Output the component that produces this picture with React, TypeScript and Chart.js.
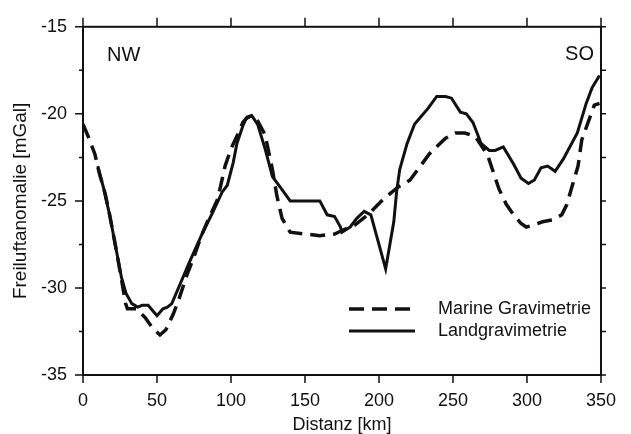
import React, { useEffect, useRef } from "react";
import { Chart, registerables } from "chart.js";

Chart.register(...registerables);

// Marine gravimetry (dashed)
const marineKm = [0, 3.5, 8, 11, 15, 18, 22, 26, 28.8, 30, 36, 42, 47, 52, 56, 61, 65, 70, 75, 80, 85, 91, 96, 100, 105, 108, 111, 114, 118, 123, 128, 131, 134.5, 140, 150, 160, 170, 175, 183.5, 192.5, 203, 213, 221, 228, 234, 240, 245, 251.5, 258, 265, 269, 273.5, 281, 286, 291, 296, 299.5, 304, 310.5, 317, 323.5, 327, 330, 334.5, 337, 345.5, 349];
const marineVal = [-20.6, -21.3, -22.3, -23.4, -24.6, -25.8, -27.6, -29.5, -30.9, -31.2, -31.2, -31.7, -32.3, -32.7, -32.4, -31.5, -30.6, -29.3, -28.2, -27.0, -26.0, -24.9, -23.0, -22.0, -21.1, -20.5, -20.2, -20.1, -20.4, -21.2, -23.2, -24.7, -26.0, -26.8, -26.9, -27.0, -26.9, -26.7, -26.4, -25.8, -24.9, -24.2, -23.8, -23.0, -22.3, -21.8, -21.4, -21.1, -21.1, -21.3, -21.8, -22.4, -24.3, -25.2, -25.8, -26.3, -26.5, -26.4, -26.2, -26.1, -25.8, -25.2, -24.3, -23.0, -21.5, -19.5, -19.4];

// Land gravimetry (solid)
const landKm = [10, 14, 18, 22, 26, 29, 33, 37, 40, 44, 47, 50, 54, 57, 60, 65.5, 72, 81, 88, 94, 97.5, 101.5, 104, 108, 110, 114, 118, 123, 128, 134, 140, 160, 165, 170, 174, 175, 180.5, 185, 190, 194.5, 204.5, 210, 212, 214, 219, 224, 228, 233, 239, 245, 249, 255, 259, 263.5, 269, 274.5, 278.5, 284, 291, 296, 301, 305, 309.5, 314, 319, 324.5, 334, 340, 344, 349];
const landVal = [-23.0, -24.3, -25.8, -27.6, -29.4, -30.3, -30.9, -31.1, -31.0, -31.0, -31.3, -31.6, -31.2, -31.1, -30.9, -29.8, -28.5, -26.8, -25.6, -24.5, -24.1, -22.8, -21.7, -20.7, -20.3, -20.1, -20.6, -22.0, -23.6, -24.3, -25.0, -25.0, -25.8, -25.9, -26.5, -26.8, -26.5, -26.0, -25.6, -25.8, -28.9, -26.2, -24.4, -23.2, -21.7, -20.6, -20.2, -19.7, -19.0, -19.0, -19.1, -19.9, -20.0, -20.5, -21.7, -22.1, -22.1, -21.9, -22.9, -23.7, -24.0, -23.8, -23.1, -23.0, -23.3, -22.6, -21.1, -19.4, -18.5, -17.8];

const seriesLabels = ["Marine Gravimetrie", "Landgravimetrie"];
const xTitle = "Distanz [km]";
const yTitle = "Freiluftanomalie [mGal]";
const cornerLabels = ["NW", "SO"];

const FONT = "'Liberation Sans', Arial, Helvetica, sans-serif";
const INK = "#111111";

const decorPlugin = {
  id: "decor",
  afterDraw(chart: any) {
    const { ctx, chartArea } = chart;
    const { left, right, top, bottom } = chartArea;
    const xs = chart.scales.x;
    const ys = chart.scales.y;
    ctx.save();
    ctx.strokeStyle = INK;
    ctx.lineWidth = 2;
    ctx.strokeRect(left, top, right - left, bottom - top);
    ctx.lineWidth = 1.5;
    ctx.beginPath();
    for (let v = 0; v <= 350; v += 50) {
      const px = xs.getPixelForValue(v);
      ctx.moveTo(px, bottom);
      ctx.lineTo(px, bottom + 8);
      ctx.moveTo(px, top);
      ctx.lineTo(px, top - 9);
    }
    for (let v = -35; v <= -15; v += 2.5) {
      const py = ys.getPixelForValue(v);
      const major = Math.abs(v % 5) < 1e-6;
      ctx.moveTo(left, py);
      ctx.lineTo(left - (major ? 8 : 4), py);
      ctx.moveTo(right, py);
      ctx.lineTo(right + 5, py);
    }
    ctx.stroke();

    // corner labels
    ctx.fillStyle = INK;
    ctx.font = `20px ${FONT}`;
    ctx.textBaseline = "middle";
    ctx.textAlign = "left";
    ctx.fillText(cornerLabels[0], 107, 55);
    ctx.textAlign = "right";
    ctx.fillText(cornerLabels[1], 594, 54);

    // legend
    const ds = chart.data.datasets;
    const rows = [309, 331];
    ds.forEach((d: any, i: number) => {
      ctx.save();
      ctx.strokeStyle = d.borderColor;
      ctx.lineWidth = d.borderWidth;
      ctx.setLineDash(d.borderDash || []);
      ctx.beginPath();
      ctx.moveTo(349, rows[i]);
      ctx.lineTo(i === 0 ? 412 : 415, rows[i]);
      ctx.stroke();
      ctx.restore();
      ctx.fillStyle = INK;
      ctx.font = `18px ${FONT}`;
      ctx.textAlign = "left";
      ctx.textBaseline = "middle";
      ctx.fillText(d.label, 438, rows[i]);
    });
    ctx.restore();
  },
};

export default function App() {
  const ref = useRef<HTMLCanvasElement | null>(null);
  useEffect(() => {
    document.body.style.margin = "0";
    const canvas = ref.current!;
    const chart = new Chart(canvas, {
      type: "line",
      data: {
        datasets: [
          {
            label: seriesLabels[0],
            data: marineKm.map((x, i) => ({ x, y: marineVal[i] })),
            borderColor: INK,
            borderWidth: 3.5,
            borderDash: [15, 8],
            pointRadius: 0,
            tension: 0,
            fill: false,
          },
          {
            label: seriesLabels[1],
            data: landKm.map((x, i) => ({ x, y: landVal[i] })),
            borderColor: INK,
            borderWidth: 3,
            pointRadius: 0,
            tension: 0,
            fill: false,
          },
        ],
      },
      options: {
        animation: false,
        responsive: false,
        devicePixelRatio: 1,
        layout: { padding: { left: 0, top: 22, right: 14, bottom: 0 } },
        plugins: { legend: { display: false }, tooltip: { enabled: false } },
        scales: {
          x: {
            type: "linear",
            min: 0,
            max: 350,
            afterFit: (s: any) => { s.height = 59; },
            grid: { display: false, drawTicks: false },
            border: { display: false },
            ticks: { stepSize: 50, padding: 15, color: INK, font: { family: FONT, size: 18 } },
            title: { display: true, text: xTitle, color: INK, font: { family: FONT, size: 18, lineHeight: 1 }, padding: 0 },
          },
          y: {
            type: "linear",
            min: -35,
            max: -15,
            afterFit: (s: any) => { s.width = 83; },
            grid: { display: false, drawTicks: false },
            border: { display: false },
            ticks: { stepSize: 5, padding: 16, color: INK, font: { family: FONT, size: 18 } },
            title: { display: true, text: yTitle, color: INK, font: { family: FONT, size: 19, lineHeight: 1 }, padding: { top: 11, bottom: 0 } },
          },
        },
      },
      plugins: [decorPlugin],
    });
    return () => chart.destroy();
  }, []);
  return (
    <div style={{ position: "absolute", left: 0, top: 0, width: 631, height: 434, background: "#fff" }}>
      <canvas ref={ref} width={631} height={434} />
    </div>
  );
}
